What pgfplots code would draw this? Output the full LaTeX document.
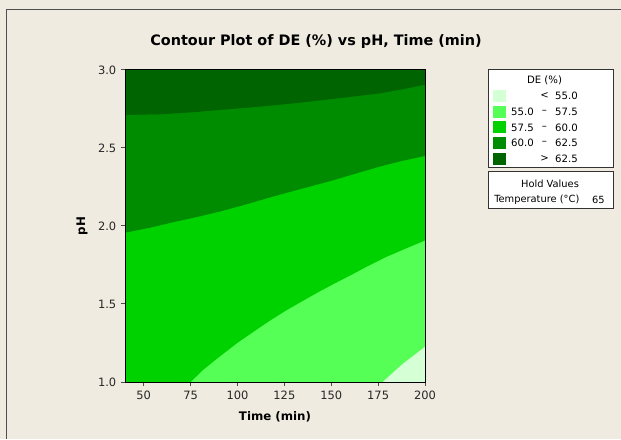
\documentclass[border=0pt]{standalone}
\usepackage{fontspec}
\setmainfont{DejaVu Sans}
\usepackage{pgfplots}
\pgfplotsset{compat=1.18}
\definecolor{bg}{HTML}{EFEBE1}
\definecolor{cA}{HTML}{D5FFD5}
\definecolor{cB}{HTML}{55FF55}
\definecolor{cC}{HTML}{00D200}
\definecolor{cD}{HTML}{008C00}
\definecolor{cE}{HTML}{006400}
\definecolor{frame}{HTML}{505050}
\begin{document}
\begin{tikzpicture}[x=0.75pt,y=0.75pt]
\fill[bg] (0,0) rectangle (621,439);
\useasboundingbox (0,0) rectangle (621,439);
\draw[frame,line width=0.75pt] (6.3,0) -- (6.3,429) -- (621,429);
\node[font=\fontsize{10.8pt}{12pt}\selectfont\bfseries] at (316,397.3) {Contour Plot of DE (\%) vs pH, Time (min)};
\begin{axis}[
  at={(93.75pt,42.75pt)}, anchor=south west,
  scale only axis, width=225pt, height=234pt,
  xmin=40, xmax=200, ymin=1, ymax=3,
  axis on top,
  xtick={50,75,100,125,150,175,200},
  ytick={1,1.5,2,2.5,3},
  xtick pos=bottom, ytick pos=left,
  tick align=outside,
  major tick length=3pt,
  every tick/.style={black!70, line width=0.75pt},
  axis line style={black, line width=0.75pt},
  /pgf/number format/assume math mode=true,
  yticklabel style={/pgf/number format/.cd, fixed, fixed zerofill, precision=1},
  ticklabel style={font=\fontsize{8.6pt}{10pt}\selectfont, text=black!85},
  xlabel={Time (min)},
  ylabel={pH},
  label style={font=\fontsize{8.85pt}{10pt}\selectfont\bfseries},
  xlabel style={at={(axis description cs:0.5,-0.1122)}, anchor=center},
  ylabel style={at={(axis description cs:-0.1433,0.5)}, anchor=center},
]
% 57.5 - 60 (base)
\addplot[fill=cC, draw=none] coordinates {(40,1) (200,1) (200,3) (40,3)} -- cycle;
% 60 - 62.5
\addplot[fill=cD, draw=none] coordinates {
 (40,1.957) (53,1.988) (66,2.025) (80,2.062) (92,2.097) (105,2.14) (117,2.182) (133,2.235) (149,2.286) (162,2.332) (175.6,2.38) (188,2.418) (200,2.449)
 (200,3) (40,3)} -- cycle;
% > 62.5
\addplot[fill=cE, draw=none] coordinates {
 (40,2.712) (58.6,2.716) (75,2.728) (90.5,2.744) (104,2.757) (117,2.771) (133,2.79) (149,2.812) (162,2.83) (175.6,2.85) (188,2.876) (200,2.906)
 (200,3) (40,3)} -- cycle;
% 55 - 57.5
\addplot[fill=cB, draw=none] coordinates {
 (75.1,1) (82,1.08) (90.5,1.162) (100,1.25) (108.2,1.318) (117,1.39) (126,1.458) (135,1.52) (143.7,1.579) (152,1.632) (161.4,1.69) (170,1.745) (179.2,1.8) (190,1.856) (200,1.906)
 (200,1)} -- cycle;
% < 55
\addplot[fill=cA, draw=none] coordinates {
 (177.4,1) (182,1.05) (188,1.115) (194,1.17) (200,1.226) (200,1)} -- cycle;
\end{axis}
% legend box
\draw[black!80, fill=white, line width=0.75pt] (488,369) rectangle (613,271);
\begin{scope}[every node/.style={font=\fontsize{7.6pt}{8pt}\selectfont, inner sep=0pt}]
\node at (544.5,359) {DE (\%)};
\fill[cA] (493,337) rectangle (506,349);
\fill[cB] (493,321.3) rectangle (506,333.3);
\fill[cC] (493,305.5) rectangle (506,317.5);
\fill[cD] (493,289.8) rectangle (506,301.8);
\fill[cE] (493,274) rectangle (506,286);
\node at (544.5,343) {<};
\node[anchor=east] at (578,343) {55.0};
\node[anchor=east] at (534,327.3) {55.0};
\node at (544.5,327.3) {–};
\node[anchor=east] at (578,327.3) {57.5};
\node[anchor=east] at (534,311.5) {57.5};
\node at (544.5,311.5) {–};
\node[anchor=east] at (578,311.5) {60.0};
\node[anchor=east] at (534,295.8) {60.0};
\node at (544.5,295.8) {–};
\node[anchor=east] at (578,295.8) {62.5};
\node at (544.5,280) {>};
\node[anchor=east] at (578,280) {62.5};
\end{scope}
% hold values box
\draw[black!80, fill=white, line width=0.75pt] (488,267) rectangle (613,230);
\begin{scope}[every node/.style={font=\fontsize{7.4pt}{8pt}\selectfont, inner sep=0pt}]
\node at (550,255) {Hold Values};
\node[anchor=west] at (494,239) {Temperature (°C)};
\node[anchor=east] at (605,239) {65};
\end{scope}
\end{tikzpicture}
\end{document}
